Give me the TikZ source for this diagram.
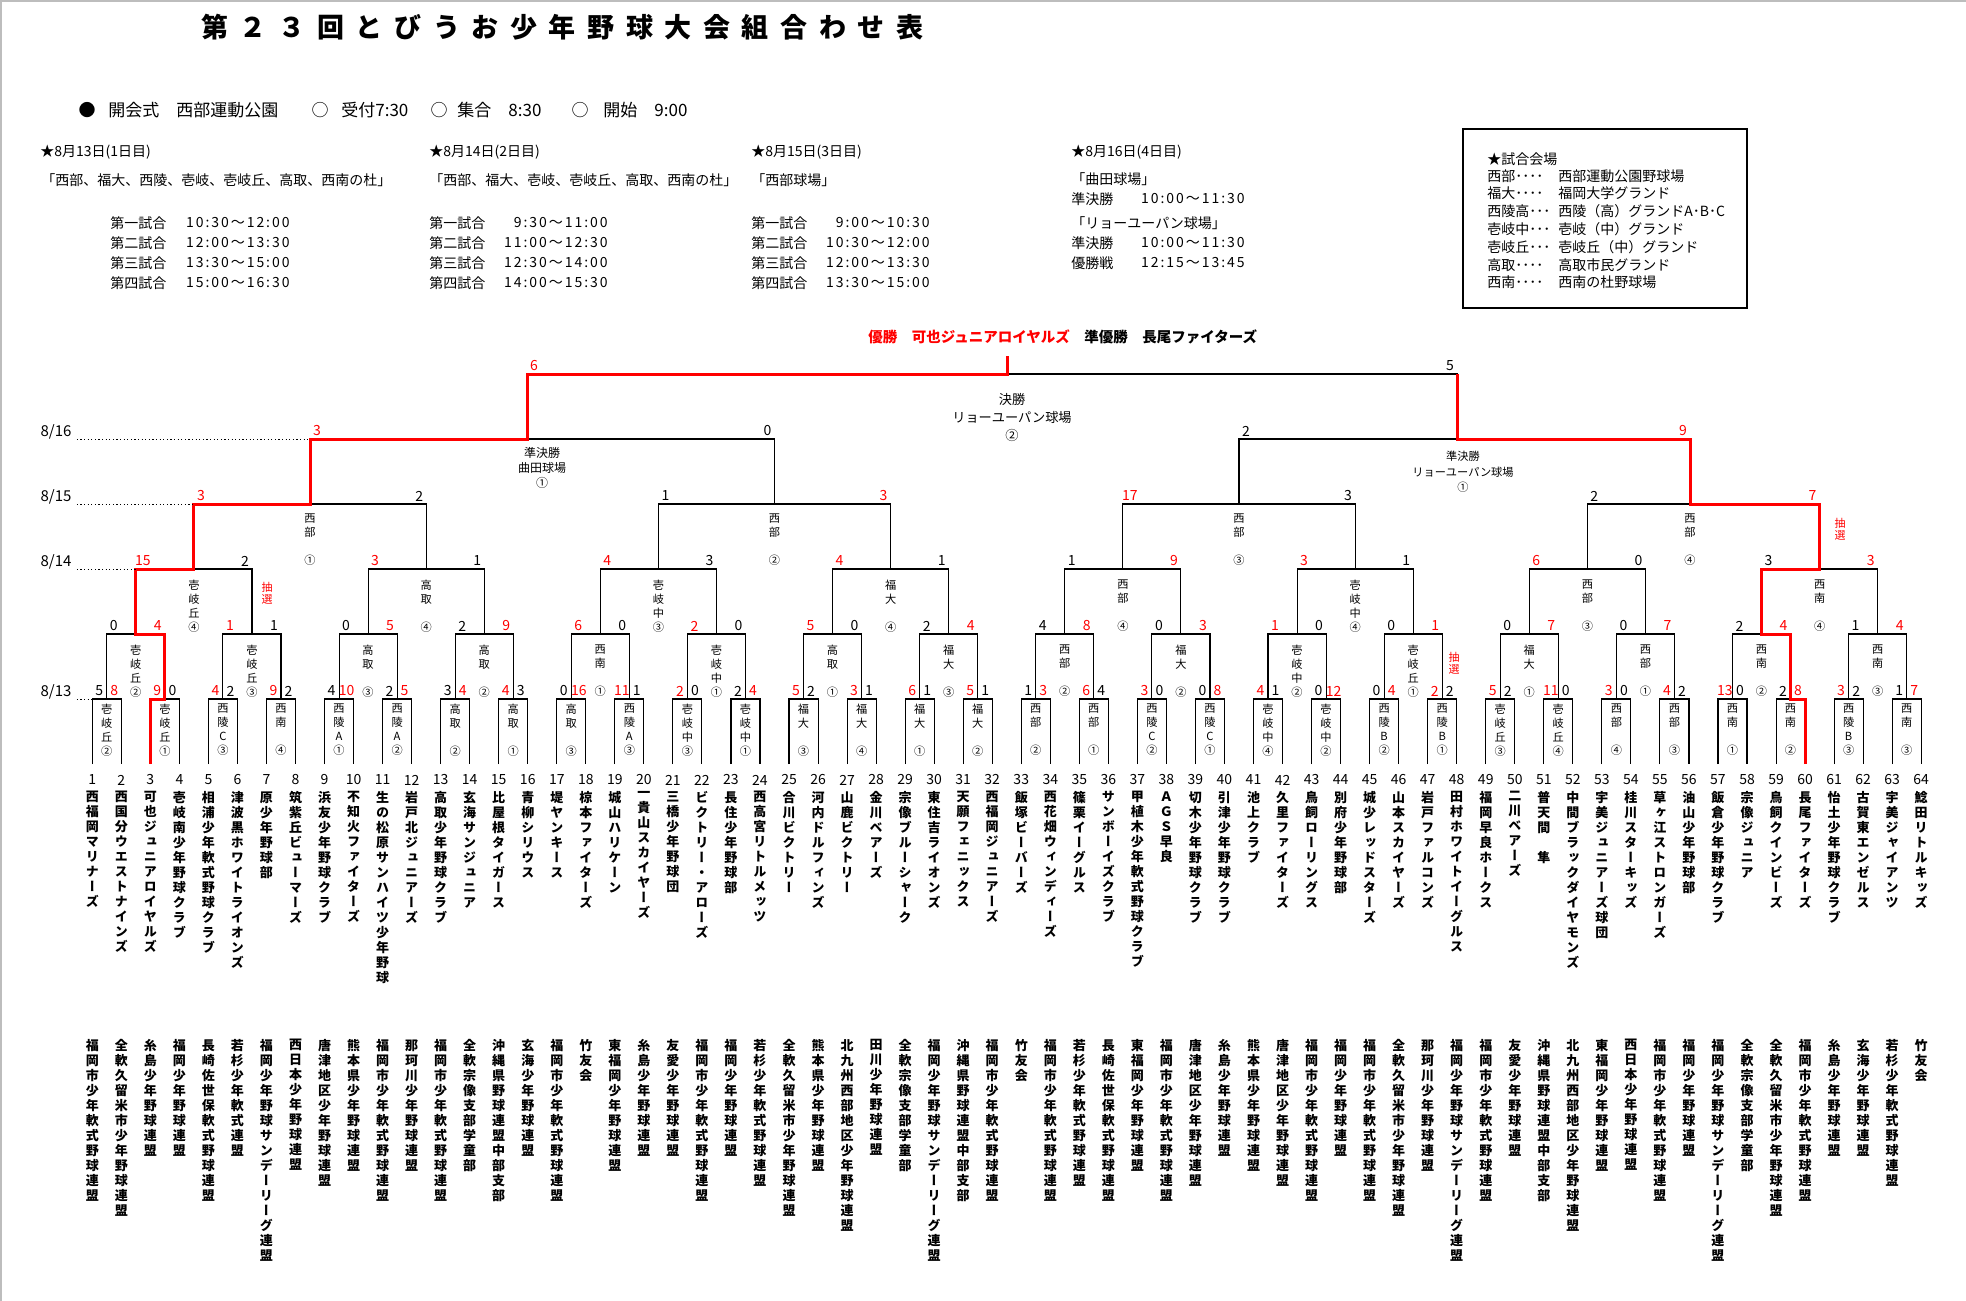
\documentclass[tikz,border=0pt]{standalone}
\usepackage{fontspec}
\setmainfont{Noto Sans CJK JP}
\newfontfamily\jpvert[RawFeature=+vert]{Noto Sans CJK JP}
\newfontfamily\jptime[LetterSpace=14]{Noto Sans CJK JP}
\usetikzlibrary{calc}
\definecolor{winred}{HTML}{FF0000}
\definecolor{framegray}{HTML}{BDBDBD}

% stacked text, one glyph per line
\newcommand\vtext[1]{\vbox{\lineskiplimit=-20pt\lineskip=0pt\vtextnext#1\relax}}
\def\vtextnext#1{\ifx\relax#1\else\hbox to 0pt{\hss#1\hss}\expandafter\vtextnext\fi}

\tikzset{
bline/.style={draw=black, line width=0.55pt},
winpath/.style={draw=winred, line width=1.5pt},
dateline/.style={draw=black, line width=0.5pt, dash pattern=on 0.6pt off 1.2pt},
teamname/.style={anchor=north, inner sep=0pt, font=\jpvert\bfseries\fontsize{6.5}{7.5}\selectfont},
teamno/.style={inner sep=0pt, font=\fontsize{7}{8}\selectfont},
scorelbl/.style={inner sep=0pt, font=\fontsize{7}{8}\selectfont},
venuelbl/.style={anchor=north, inner sep=0pt, font=\jpvert\fontsize{5.6}{7}\selectfont},
lotlbl/.style={anchor=north, inner sep=0pt, text=winred, font=\jpvert\fontsize{5.5}{6.4}\selectfont},
roundlbl/.style={align=center, inner sep=0pt},
datelbl/.style={inner sep=0pt, font=\fontsize{7.5}{9}\selectfont},
hdr/.style={anchor=west, inner sep=0pt, font=\fontsize{7}{8.5}\selectfont},
hdrtime/.style={anchor=east, inner sep=0pt, font=\jptime\fontsize{7}{8.5}\selectfont},
hdrbig/.style={anchor=west, inner sep=0pt, font=\fontsize{8.5}{10}\selectfont},
titletxt/.style={anchor=west, inner sep=0pt, font=\bfseries\fontsize{13.5}{16}\selectfont\addfontfeature{LetterSpace=43}},
venuebox/.style={draw=black, line width=0.6pt, minimum width=142pt, minimum height=89.5pt, inner sep=0pt}
}

% scores of one round: level, child level, left/right/winner
\newcommand\scorerow[3]{%
  \foreach \sl/\sr/\sw [count=\j] in {#3} {
    \pgfmathtruncatemacro\ja{2*\j-1}
    \pgfmathtruncatemacro\jb{2*\j}
    \ifnum\sw=1 \def\colL{winred}\def\colR{black}\else\def\colL{black}\def\colR{winred}\fi
    \node[scorelbl, text=\colL] (s#1-\j a) at ($(n#2-\ja |- n#1-\j)+(7,-8)$) {\sl};
    \node[scorelbl, text=\colR] (s#1-\j b) at ($(n#2-\jb |- n#1-\j)+(-7,-8)$) {\sr};
  }%
}
% ground names inside the brackets
\newcommand\venuerow[3]{%
  \foreach \vn [count=\j] in {#3} {
    \node[venuelbl] (v#1-\j) at ($(n#1-\j)+(0,#2)$) {\expandafter\vtext\expandafter{\vn}};
  }%
}

\begin{document}
\begin{tikzpicture}[x=0.5pt, y=-0.5pt]
\useasboundingbox (0,0) rectangle (1966,1301);
\draw[framegray, line width=0.8pt] (1,1301) -- (1,1) -- (1966,1);

% title and schedule
\node[titletxt] (title) at (201,27) {第２３回とびうお少年野球大会組合わせ表};
\node[hdrbig, anchor=center] (opendot) at (87,110) {●};
\node[hdrbig] (opening) at (108,110) {開会式　西部運動公園};
\node[hdrbig, anchor=center] (mark1) at (320,110) {○};
\node[hdrbig] (reception) at (341,110) {受付7:30};
\node[hdrbig, anchor=center] (mark2) at (439,110) {○};
\node[hdrbig] (gather) at (457,110) {集合　8:30};
\node[hdrbig, anchor=center] (mark3) at (580,110) {○};
\node[hdrbig] (kickoff) at (603,110) {開始　9:00};

\node[hdr] (day1) at (40,152) {★8月13日(1日目)};
\node[hdr] (site1) at (41,180) {「西部、福大、西陵、壱岐、壱岐丘、高取、西南の杜」};
\foreach \g/\tm [count=\i] in {第一試合/10:30～12:00,第二試合/12:00～13:30,第三試合/13:30～15:00,第四試合/15:00～16:30} {
  \node[hdr] (game1-\i) at (110,203+20*\i) {\g};
  \node[hdrtime] (time1-\i) at (290,203+20*\i) {\tm};
}
\node[hdr] (day2) at (429,152) {★8月14日(2日目)};
\node[hdr] (site2) at (429,180) {「西部、福大、壱岐、壱岐丘、高取、西南の杜」};
\foreach \g/\tm [count=\i] in {第一試合/9:30～11:00,第二試合/11:00～12:30,第三試合/12:30～14:00,第四試合/14:00～15:30} {
  \node[hdr] (game2-\i) at (429,203+20*\i) {\g};
  \node[hdrtime] (time2-\i) at (608,203+20*\i) {\tm};
}
\node[hdr] (day3) at (751,152) {★8月15日(3日目)};
\node[hdr] (site3) at (751,180) {「西部球場」};
\foreach \g/\tm [count=\i] in {第一試合/9:00～10:30,第二試合/10:30～12:00,第三試合/12:00～13:30,第四試合/13:30～15:00} {
  \node[hdr] (game3-\i) at (751,203+20*\i) {\g};
  \node[hdrtime] (time3-\i) at (930,203+20*\i) {\tm};
}
\node[hdr] (day4) at (1071,152) {★8月16日(4日目)};
\node[hdr] (site4a) at (1071,179) {「曲田球場」};
\node[hdr] (game4-1) at (1071,199) {準決勝};
\node[hdrtime] (time4-1) at (1245,199) {10:00～11:30};
\node[hdr] (site4b) at (1071,223) {「リョーユーパン球場」};
\node[hdr] (game4-2) at (1071,243) {準決勝};
\node[hdrtime] (time4-2) at (1245,243) {10:00～11:30};
\node[hdr] (game4-3) at (1071,263) {優勝戦};
\node[hdrtime] (time4-3) at (1245,263) {12:15～13:45};

% grounds
\node[venuebox] (venues) at (1605,218.5) {};
\node[hdr] (venuehead) at (1487,159) {★試合会場};
\foreach \a/\b [count=\i] in {西部････/西部運動公園野球場,福大････/福岡大学グランド,西陵高･･･/西陵（高）グランドA･B･C,壱岐中･･･/壱岐（中）グランド,壱岐丘･･･/壱岐丘（中）グランド,高取････/高取市民グランド,西南････/西南の杜野球場} {
  \node[hdr] (vkey\i) at (1487,158+17.8*\i) {\a};
  \node[hdr] (vfull\i) at (1558,158+17.8*\i) {\b};
}

\node[anchor=west, inner sep=0pt, font=\bfseries\fontsize{7.25}{9}\selectfont] (champline) at (868,337) {\textcolor{winred}{優勝　可也ジュニアロイヤルズ}　準優勝　長尾ファイターズ};

% bracket points
\foreach \i in {1,...,64} {
  \pgfmathsetmacro\tx{92.3+29.03*(\i-1)}
  \coordinate (n0-\i) at (\tx,764);
}
\foreach \k/\m in {1/32,2/16,3/8,4/4,5/2,6/1} {
  \foreach \j in {1,...,\m} {
    \pgfmathsetmacro\cx{92.3+29.03*((\j-1)*pow(2,\k)+(pow(2,\k)-1)/2)}
    \pgfmathsetmacro\cy{699-65*(\k-1)}
    \coordinate (n\k-\j) at (\cx,\cy);
  }
}
\coordinate (n4-4) at (1690,504);
\coordinate (n5-1) at (527,439);
\coordinate (n5-2) at (1457,439);
\coordinate (n6-1) at (1007,374);
\coordinate (champ) at (1007,356);

\foreach \k/\m in {1/32,2/16,3/8,4/4,5/2,6/1} {
  \pgfmathtruncatemacro\kp{\k-1}
  \foreach \j in {1,...,\m} {
    \pgfmathtruncatemacro\ja{2*\j-1}
    \pgfmathtruncatemacro\jb{2*\j}
    \draw[bline] (n\kp-\ja) |- (n\k-\j) -| (n\kp-\jb);
  }
}

% winners
\draw[winpath] (n0-3) |- (n1-2) |- (n2-1) |- (n3-1) |- (n4-1) |- (n5-1) |- (n6-1) -- (champ);
\draw[winpath] (n0-60) |- (n1-30) |- (n2-15) |- (n3-8) |- (n4-4) |- (n5-2) -- (n5-2 |- n6-1);

% days
\foreach \dn/\dy/\ck in {16/439/4-1,15/504/3-1,14/569/2-1,13/699/0-1} {
  \node[datelbl] (date\dn) at (56,\dy-7) {8/\dn};
  \draw[dateline] (date\dn.east |- 0,\dy) ++(5,0) -- (n\ck |- 0,\dy);
}

% scores
\scorerow{1}{0}{5/8/2,9/0/1,4/2/1,9/2/1,4/10/2,2/5/2,3/4/2,4/3/1,0/16/2,11/1/1,2/0/1,2/4/2,5/2/1,3/1/1,6/1/1,5/1/1,1/3/2,6/4/1,3/0/1,0/8/2,4/1/1,0/12/2,0/4/2,2/2/1,5/2/1,11/0/1,3/0/1,4/2/1,13/0/1,2/8/2,3/2/1,1/7/2}
\scorerow{2}{1}{0/4/2,1/1/1,0/5/2,2/9/2,6/0/1,2/0/1,5/0/1,2/4/2,4/8/2,0/3/2,1/0/1,0/1/2,0/7/2,0/7/2,2/4/2,1/4/2}
\scorerow{3}{2}{15/2/1,3/1/1,4/3/1,4/1/1,1/9/2,3/1/1,6/0/1,3/3/2}
\scorerow{4}{3}{3/2/1,1/3/2,17/3/1,2/7/2}
\scorerow{5}{4}{3/0/1,2/9/2}
\scorerow{6}{5}{6/5/1}

% grounds per game
\venuerow{1}{4.5}{壱岐丘②,壱岐丘①,西陵C③,西南　④,西陵A①,西陵A②,高取　②,高取　①,高取　③,西陵A③,壱岐中③,壱岐中①,福大　③,福大　④,福大　①,福大　②,西部　②,西部　①,西陵C②,西陵C①,壱岐中④,壱岐中②,西陵B②,西陵B①,壱岐丘③,壱岐丘④,西部　④,西部　③,西南　①,西南　②,西陵B③,西南　③}
\venuerow{2}{10.5}{壱岐丘②,壱岐丘③,高取　③,高取　②,西南　①,壱岐中①,高取　①,福大　③,西部　②,福大　②,壱岐中②,壱岐丘①,福大　①,西部　①,西南　②,西南　③}
\venuerow{3}{10.5}{壱岐丘④,高取　④,壱岐中③,福大　④,西部　④,壱岐中④,西部　③,西南　④}
\venuerow{4}{9}{西部　①,西部　②,西部　③,西部　④}

\node[lotlbl] (lot1) at (267,581.5) {\vtext{抽選}};
\node[lotlbl] (lot2) at (1454,651.5) {\vtext{抽選}};
\node[lotlbl] (lot3) at (1840,517.5) {\vtext{抽選}};

\node[roundlbl, font=\fontsize{6}{7.5}\selectfont] (semi1) at (542,468) {準決勝\\曲田球場\\①};
\node[roundlbl, font=\fontsize{5.6}{7.7}\selectfont] (semi2) at (1463,472) {準決勝\\リョーユーパン球場\\①};
\node[roundlbl, font=\fontsize{6.6}{9}\selectfont] (finallbl) at (1012,418) {決勝\\リョーユーパン球場\\②};

% teams and leagues
\foreach \tnm/\tlg [count=\i] in {西福岡マリナーズ/福岡市少年軟式野球連盟,西国分ウエストナインズ/全軟久留米市少年野球連盟,可也ジュニアロイヤルズ/糸島少年野球連盟,壱岐南少年野球クラブ/福岡少年野球連盟,相浦少年軟式野球クラブ/長崎佐世保軟式野球連盟,津波黒ホワイトライオンズ/若杉少年軟式連盟,原少年野球部/福岡少年野球サンデーリーグ連盟,筑紫丘ビューマーズ/西日本少年野球連盟,浜友少年野球クラブ/唐津地区少年野球連盟,不知火ファイターズ/熊本県少年野球連盟,生の松原サンハイツ少年野球/福岡市少年軟式野球連盟,岩戸北ジュニアーズ/那珂川少年野球連盟,高取少年野球クラブ/福岡市少年軟式野球連盟,玄海サンジュニア/全軟宗像支部学童部,比屋根タイガース/沖縄県野球連盟中部支部,青柳シリウス/玄海少年野球連盟,堤ヤンキース/福岡市少年軟式野球連盟,椋本ファイターズ/竹友会,城山ハリケーン/東福岡少年野球連盟,一貴山スカイヤーズ/糸島少年野球連盟,三橋少年野球団/友愛少年野球連盟,ビクトリー・アローズ/福岡市少年軟式野球連盟,長住少年野球部/福岡少年野球連盟,西高宮リトルメッツ/若杉少年軟式野球連盟,合川ビクトリー/全軟久留米市少年野球連盟,河内ドルフィンズ/熊本県少年野球連盟,山鹿ビクトリー/北九州西部地区少年野球連盟,金川ベアーズ/田川少年野球連盟,宗像ブルーシャーク/全軟宗像支部学童部,東住吉ライオンズ/福岡少年野球サンデーリーグ連盟,天願フェニックス/沖縄県野球連盟中部支部,西福岡ジュニアーズ/福岡市少年軟式野球連盟,飯塚ビーバーズ/竹友会,西花畑ウィンディーズ/福岡市少年軟式野球連盟,篠栗イーグルス/若杉少年軟式野球連盟,サンボーイズクラブ/長崎佐世保軟式野球連盟,甲植木少年軟式野球クラブ/東福岡少年野球連盟,ＡＧＳ早良/福岡市少年軟式野球連盟,切木少年野球クラブ/唐津地区少年野球連盟,引津少年野球クラブ/糸島少年野球連盟,池上クラブ/熊本県少年野球連盟,久里ファイターズ/唐津地区少年野球連盟,鳥飼ローリングス/福岡市少年軟式野球連盟,別府少年野球部/福岡少年野球連盟,城少レッドスターズ/福岡市少年軟式野球連盟,山本スカイヤーズ/全軟久留米市少年野球連盟,岩戸ファルコンズ/那珂川少年野球連盟,田村ホワイトイーグルス/福岡少年野球サンデーリーグ連盟,福岡早良ホークス/福岡市少年軟式野球連盟,二川ベアーズ/友愛少年野球連盟,普天間　隼/沖縄県野球連盟中部支部,中間ブラックダイヤモンズ/北九州西部地区少年野球連盟,宇美ジュニアーズ球団/東福岡少年野球連盟,桂川スターキッズ/西日本少年野球連盟,草ヶ江ストロンガーズ/福岡市少年軟式野球連盟,油山少年野球部/福岡少年野球連盟,飯倉少年野球クラブ/福岡少年野球サンデーリーグ連盟,宗像ジュニア/全軟宗像支部学童部,鳥飼クインビーズ/全軟久留米市少年野球連盟,長尾ファイターズ/福岡市少年軟式野球連盟,怡土少年野球クラブ/糸島少年野球連盟,古賀東エンゼルス/玄海少年野球連盟,宇美ジャイアンツ/若杉少年軟式野球連盟,鯰田リトルキッズ/竹友会} {
  \node[teamno] (no\i) at (n0-\i |- 0,780) {\i};
  \node[teamname] (team\i) at (n0-\i |- 0,791) {\expandafter\vtext\expandafter{\tnm}};
  \node[teamname] (league\i) at (n0-\i |- 0,1039) {\expandafter\vtext\expandafter{\tlg}};
}
\end{tikzpicture}
\end{document}
